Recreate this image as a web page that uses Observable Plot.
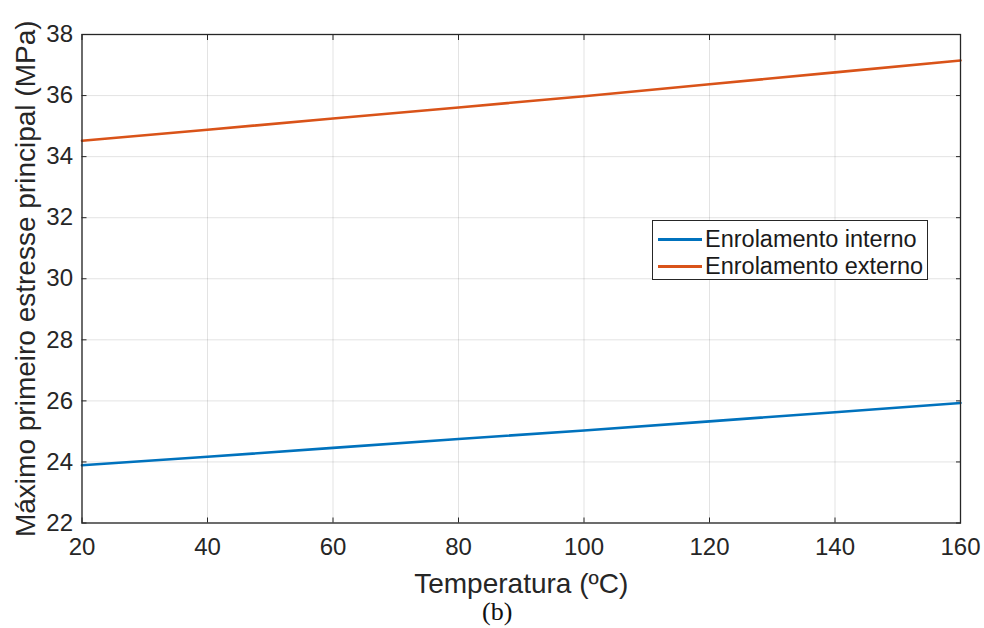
<!DOCTYPE html>
<html>
<head>
<meta charset="utf-8">
<script src="https://cdn.jsdelivr.net/npm/d3@7"></script>
<script src="https://cdn.jsdelivr.net/npm/@observablehq/plot@0.6"></script>
<style>
  html, body { margin: 0; padding: 0; background: #fff; }
  #wrap { position: relative; width: 984px; height: 628px; font-family: "Liberation Sans", Arial, sans-serif; }
  #legend {
    position: absolute; left: 652px; top: 220px; width: 276px; height: 60px;
    border: 1px solid #262626; background: #fff; box-sizing: border-box;
    padding-top: 5px;
  }
  .item { display: flex; align-items: center; height: 27px; font-size: 23.5px; color: #1a1a1a; }
  .swatch { width: 44px; height: 0; border-top: 3px solid; margin-left: 5px; margin-right: 3px; }
</style>
</head>
<body>
<div id="wrap"></div>
<script>
// Temperature sweep (ºC) and maximum first principal stress (MPa) per winding
const temperature = [20, 40, 60, 80, 100, 120, 140, 160];
const interno = [23.89, 24.17, 24.46, 24.75, 25.03, 25.33, 25.63, 25.93];
const externo = [34.52, 34.88, 35.25, 35.61, 35.98, 36.37, 36.76, 37.15];
const seriesNames = ["Enrolamento interno", "Enrolamento externo"];
const seriesColors = ["#0072BD", "#D95319"];
const xTicks = [20, 40, 60, 80, 100, 120, 140, 160];
const yTicks = [22, 24, 26, 28, 30, 32, 34, 36, 38];
const xLabel = "Temperatura (ºC)";
const yLabel = "Máximo primeiro estresse principal (MPa)";
const caption = "(b)";

const rows = [];
temperature.forEach((t, i) => {
  rows.push({t, v: interno[i], s: seriesNames[0]});
  rows.push({t, v: externo[i], s: seriesNames[1]});
});

const ink = "#262626";

const chart = Plot.plot({
  width: 984,
  height: 628,
  marginLeft: 81.5,
  marginRight: 24,
  marginTop: 34,
  marginBottom: 105.5,
  style: {fontFamily: "'Liberation Sans', Arial, sans-serif", background: "#fff"},
  x: {domain: [20, 160]},
  y: {domain: [22, 38]},
  color: {domain: seriesNames, range: seriesColors},
  marks: [
    Plot.gridX(xTicks, {stroke: ink, strokeOpacity: 0.13, strokeWidth: 1}),
    Plot.gridY(yTicks, {stroke: ink, strokeOpacity: 0.13, strokeWidth: 1}),
    Plot.line(rows, {x: "t", y: "v", z: "s", stroke: "s", strokeWidth: 2.6}),
    // inward ticks on all four sides
    Plot.axisX(xTicks, {anchor: "bottom", tickSize: -5, tickFormat: () => "", stroke: ink, label: null}),
    Plot.axisX(xTicks, {anchor: "top", tickSize: -5, tickFormat: () => "", stroke: ink, label: null}),
    Plot.axisY(yTicks, {anchor: "left", tickSize: -5, tickFormat: () => "", stroke: ink, label: null}),
    Plot.axisY(yTicks, {anchor: "right", tickSize: -5, tickFormat: () => "", stroke: ink, label: null}),
    // tick labels
    Plot.axisX(xTicks, {anchor: "bottom", tickSize: 0, tickPadding: 15, fontSize: 24, fill: ink, label: null}),
    Plot.axisY(yTicks, {anchor: "left", tickSize: 0, tickPadding: 9, fontSize: 24, fill: ink, label: null}),
    Plot.frame({stroke: ink, strokeWidth: 1.3}),
    // axis titles and caption
    Plot.text([xLabel], {text: d => d, frameAnchor: "bottom", dy: 61, lineAnchor: "middle", fontSize: 28, fill: ink}),
    Plot.text([yLabel], {text: d => d, frameAnchor: "left", dx: -56, rotate: -90, textAnchor: "middle", lineAnchor: "middle", fontSize: 28, fill: ink}),
    Plot.text([caption], {text: d => d, frameAnchor: "bottom", dx: -24, dy: 89, lineAnchor: "middle", fontSize: 26, fontFamily: "'Liberation Serif', 'DejaVu Serif', serif", fill: "#111"})
  ]
});

const wrap = document.getElementById("wrap");
wrap.appendChild(chart);

// legend box inside the axes
const legend = document.createElement("div");
legend.id = "legend";
seriesNames.forEach((name, i) => {
  const item = document.createElement("div");
  item.className = "item";
  const sw = document.createElement("span");
  sw.className = "swatch";
  sw.style.borderTopColor = seriesColors[i];
  const label = document.createElement("span");
  label.textContent = name;
  item.appendChild(sw);
  item.appendChild(label);
  legend.appendChild(item);
});
wrap.appendChild(legend);
</script>
</body>
</html>
